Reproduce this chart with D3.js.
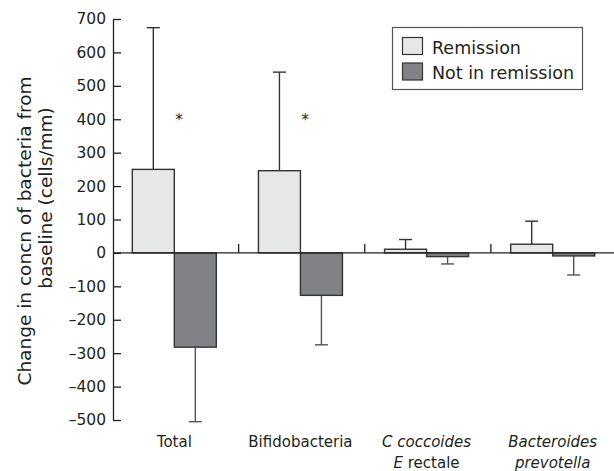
<!DOCTYPE html>
<html><head><meta charset="utf-8">
<script src="https://cdn.jsdelivr.net/npm/d3@7"></script>
<style>
html,body{margin:0;padding:0;background:#fff;}
svg{display:block;font-family:"DejaVu Sans",sans-serif;}
</style></head>
<body>
<svg id="chart" width="614" height="471"></svg>
<script>
const categories = ["Total", "Bifidobacteria", "C coccoides E rectale", "Bacteroides prevotella"];
const seriesNames = ["Remission", "Not in remission"];
const remissionMean = [250, 246, 11, 26];
const remissionSD = [424, 295, 29, 69];
const notRemissionMean = [-282, -127, -11, -9];
const notRemissionSD = [223, 148, 22, 57];
const significant = [true, true, false, false];
const yTicks = [700, 600, 500, 400, 300, 200, 100, 0, -100, -200, -300, -400, -500];
const yTitleLines = ["Change in concn of bacteria from", "baseline (cells/mm)"];
// category label lines: [text segments with italic flag]
const catLabels = [
  [[{t:"Total", i:false}]],
  [[{t:"Bifidobacteria", i:false}]],
  [[{t:"C coccoides", i:true}], [{t:"E", i:true}, {t:" rectale", i:false}]],
  [[{t:"Bacteroides", i:true}], [{t:"prevotella", i:true}]]
];

const ink = "#231f20";
const fills = ["#e6e7e8", "#808285"];
const svg = d3.select("#chart");

const y = d3.scaleLinear().domain([-500, 700]).range([420, 19]);
const x0 = d3.scaleBand().domain(categories).range([112.5, 617]).paddingInner(0).paddingOuter(0);
const barW = 42;
const x1 = d3.scaleBand().domain(seriesNames).range([0, barW * 2]);
const groupOffset = (x0.bandwidth() - barW * 2) / 2 - 1.25;

// y axis
const yAxis = d3.axisLeft(y).tickValues(yTicks).tickSizeInner(-8).tickSizeOuter(0).tickPadding(7)
  .tickFormat(d => d < 0 ? "\u2013" + Math.abs(d) : String(d));
const gy = svg.append("g").attr("transform", "translate(113,0)").call(yAxis);
gy.select(".domain").attr("stroke", ink).attr("stroke-width", 1.3);
gy.selectAll(".tick line").attr("stroke", ink).attr("stroke-width", 1.3);
gy.selectAll(".tick text").attr("fill", ink).attr("font-size", "15.5px").attr("font-family", "DejaVu Sans, sans-serif");

// y title
const yt = svg.append("g");
const titlePos = [{x: 31, c: 231}, {x: 52, c: 198}];
yTitleLines.forEach((ln, i) => {
  yt.append("text")
    .attr("transform", `translate(${titlePos[i].x},${titlePos[i].c}) rotate(-90)`)
    .attr("text-anchor", "middle")
    .attr("font-size", "18.5px")
    .attr("fill", ink)
    .text(ln);
});

// build data
const data = categories.map((c, i) => ({
  cat: c,
  vals: [
    {s: seriesNames[0], v: remissionMean[i], sd: remissionSD[i]},
    {s: seriesNames[1], v: notRemissionMean[i], sd: notRemissionSD[i]}
  ]
}));

const groups = svg.append("g").selectAll("g").data(data).join("g")
  .attr("transform", d => `translate(${x0(d.cat) + groupOffset},0)`);

// error bars
groups.selectAll("g.err").data(d => d.vals).join("g").attr("class", "err").each(function(d, j) {
  const g = d3.select(this);
  const cx = x1(d.s) + x1.bandwidth() / 2;
  const end = d.v >= 0 ? d.v + d.sd : d.v - d.sd;
  const col = j === 0 ? "#333" : "#555";
  g.append("line").attr("x1", cx).attr("x2", cx).attr("y1", y(d.v)).attr("y2", y(end))
    .attr("stroke", col).attr("stroke-width", 1.4);
  g.append("line").attr("x1", cx - 6.5).attr("x2", cx + 6.5).attr("y1", y(end)).attr("y2", y(end))
    .attr("stroke", col).attr("stroke-width", 1.4);
});

// bars
groups.selectAll("rect").data(d => d.vals).join("rect")
  .attr("x", d => x1(d.s))
  .attr("width", x1.bandwidth())
  .attr("y", d => y(Math.max(0, d.v)))
  .attr("height", d => Math.abs(y(d.v) - y(0)))
  .attr("fill", (d, j) => fills[j])
  .attr("stroke", "#333")
  .attr("stroke-width", 1.4);

// zero line
svg.append("line").attr("x1", 113).attr("x2", 614).attr("y1", y(0)).attr("y2", y(0))
  .attr("stroke", ink).attr("stroke-width", 1.3);
// separators
svg.append("g").selectAll("line").data(categories.slice(1)).join("line")
  .attr("x1", d => x0(d)).attr("x2", d => x0(d))
  .attr("y1", y(0)).attr("y2", y(0) - 9)
  .attr("stroke", ink).attr("stroke-width", 1.3);

// significance asterisks
svg.append("g").selectAll("text").data(categories.filter((c, i) => significant[i])).join("text")
  .attr("x", d => x0(d) + x0.bandwidth() / 2 + 3.5)
  .attr("y", y(410) + 9)
  .attr("text-anchor", "middle")
  .attr("font-size", "15px")
  .attr("fill", ink)
  .text("*");

// category labels
const lab = svg.append("g");
categories.forEach((c, i) => {
  const cx = x0(c) + x0.bandwidth() / 2 - 1.25;
  catLabels[i].forEach((line, k) => {
    const t = lab.append("text").attr("x", cx).attr("y", 447 + k * 21)
      .attr("text-anchor", "middle").attr("font-size", "15px").attr("fill", ink);
    line.forEach(seg => t.append("tspan").attr("font-style", seg.i ? "italic" : "normal").text(seg.t));
  });
});

// legend
const lg = svg.append("g");
lg.append("rect").attr("x", 392.5).attr("y", 27.5).attr("width", 190).attr("height", 62)
  .attr("fill", "#fff").attr("stroke", "#555").attr("stroke-width", 1.2);
seriesNames.forEach((s, i) => {
  lg.append("rect").attr("x", 402.5).attr("y", 37.5 + i * 25.5).attr("width", 20).attr("height", 17)
    .attr("fill", fills[i]).attr("stroke", "#333").attr("stroke-width", 1.2);
  lg.append("text").attr("x", 432).attr("y", 53.5 + i * 25).attr("font-size", "17.5px")
    .attr("fill", ink).text(s);
});
</script>
</body></html>
